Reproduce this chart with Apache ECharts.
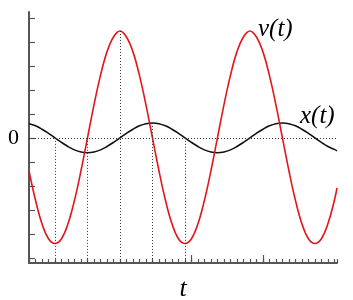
<!DOCTYPE html>
<html><head><meta charset="utf-8">
<script src="https://cdn.jsdelivr.net/npm/echarts@6/dist/echarts.min.js"></script>
<style>html,body{margin:0;padding:0;background:#fff}#c{width:353px;height:300px}</style>
</head><body><div id="c"></div>
<script>
// sample times (t axis units = small tick spacing)
const tValues = [0,1,2,3,4,5,6,7,8,9,10,11,12,13,14,15,16,17,18,19,20,21,22,23,24,25,26,27,28,29,30,31,32,33,34,35,36,37,38,39,40,41,42,43,44,45,46,47,47.4];
// red curve v(t)
const vValues = [-1.37,-2.60,-3.58,-4.20,-4.40,-4.20,-3.58,-2.60,-1.37,0,1.37,2.60,3.58,4.20,4.45,4.20,3.58,2.60,1.37,0,-1.37,-2.60,-3.58,-4.20,-4.40,-4.20,-3.58,-2.60,-1.37,0,1.37,2.60,3.58,4.20,4.45,4.20,3.58,2.60,1.37,0,-1.37,-2.60,-3.58,-4.20,-4.40,-4.20,-3.58,-2.60,-2.08];
// black curve x(t)
const xValues = [0.59,0.50,0.36,0.19,0,-0.19,-0.36,-0.50,-0.59,-0.62,-0.59,-0.50,-0.36,-0.19,0,0.19,0.36,0.50,0.59,0.62,0.59,0.50,0.36,0.19,0,-0.19,-0.36,-0.50,-0.59,-0.62,-0.59,-0.50,-0.36,-0.19,0,0.19,0.36,0.50,0.59,0.62,0.59,0.50,0.36,0.19,0,-0.19,-0.36,-0.48,-0.54];
const yTicks = [-5,-4,-3,-2,-1,0,1,2,3,4,5];
const yLabels = [0];
const xMajorTicks = [25, 36];
const guideT = [4, 9, 14, 19, 24];
const guideFrom = [0, 0, 4.45, 0.62, 0];
const yMin = -5.21, yMax = 5.24, tMin = 0, tMax = 47.4;

const axisColor = '#555';
const serif = '"Liberation Serif", "Times New Roman", Times, serif';

const chart = echarts.init(document.getElementById('c'), null, {renderer: 'canvas'});
const pair = (ts, vs) => ts.map((t, i) => [t, vs[i]]);
const vertGuides = guideT.map((t, i) => [{coord: [t, guideFrom[i]]}, {coord: [t, yMin]}]);

chart.setOption({
  animation: false,
  backgroundColor: '#fff',
  grid: {left: 29, right: 16, top: 12, bottom: 37, containLabel: false, outerBoundsMode: 'none'},
  xAxis: [{
    type: 'value', min: tMin, max: tMax, interval: 1,
    axisLine: {show: true, onZero: false, lineStyle: {color: axisColor, width: 2}},
    axisTick: {show: true, inside: true, length: 4, lineStyle: {color: axisColor, width: 1.2}},
    axisLabel: {show: false}, splitLine: {show: false},
    name: 't', nameLocation: 'middle', nameGap: 13,
    nameTextStyle: {fontFamily: serif, fontStyle: 'italic', fontSize: 26, color: '#000'}
  }, {
    type: 'value', min: tMin, max: tMax, position: 'bottom',
    axisLine: {show: false, onZero: false},
    axisTick: {show: true, inside: true, length: 8, customValues: xMajorTicks, lineStyle: {color: axisColor, width: 1.2}},
    axisLabel: {show: false}, splitLine: {show: false}
  }],
  yAxis: {
    type: 'value', min: yMin, max: yMax,
    axisLine: {show: true, onZero: false, lineStyle: {color: axisColor, width: 2}},
    axisTick: {show: true, inside: true, length: 6, customValues: yTicks, lineStyle: {color: axisColor, width: 1.2}},
    axisLabel: {show: true, customValues: yLabels, margin: 10, fontFamily: serif, fontSize: 22, color: '#000'},
    splitLine: {show: false}
  },
  graphic: [
    {type: 'text', left: 258, top: 17, style: {text: 'v(t)', font: 'italic 25px ' + serif, fill: '#000'}},
    {type: 'text', left: 300, top: 104, style: {text: 'x(t)', font: 'italic 25px ' + serif, fill: '#000'}}
  ],
  series: [{
    type: 'line', data: [], xAxisIndex: 0,
    markLine: {
      silent: true, symbol: 'none', label: {show: false},
      lineStyle: {color: '#333', width: 1, type: [1, 2]},
      data: [{yAxis: 0}].concat(vertGuides)
    }
  }, {
    name: 'x', type: 'line', data: pair(tValues, xValues), showSymbol: false, smooth: 0.4,
    lineStyle: {color: '#111', width: 1.6}, z: 3
  }, {
    name: 'v', type: 'line', data: pair(tValues, vValues), showSymbol: false, smooth: 0.4,
    lineStyle: {color: '#e3161b', width: 1.6}, z: 4
  }]
});
</script>
</body></html>
